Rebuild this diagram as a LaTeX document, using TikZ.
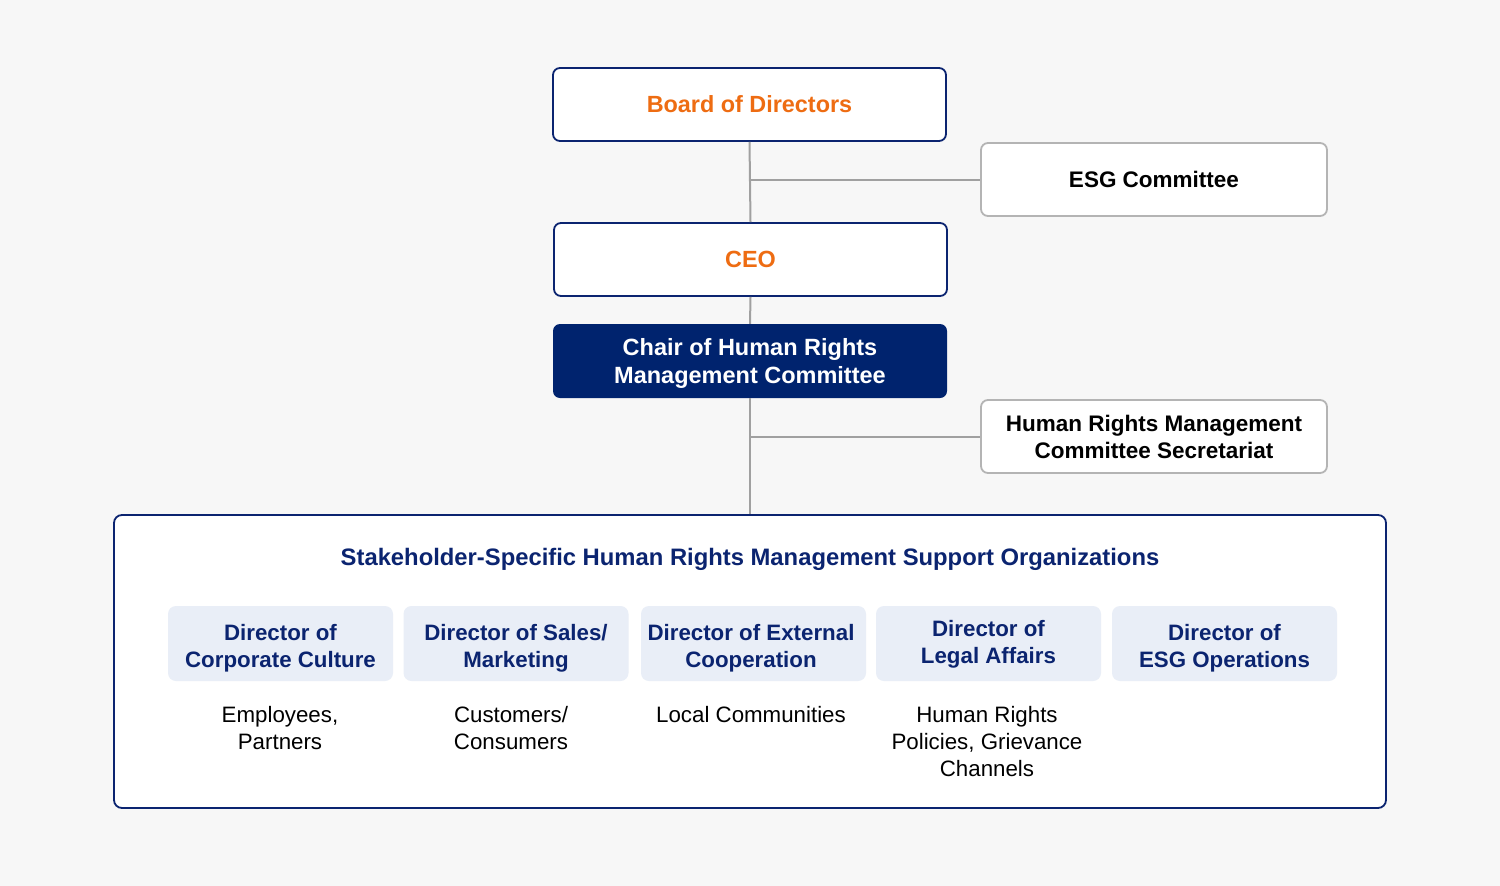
\documentclass[tikz,border=0pt]{standalone}
\usepackage{fontspec}
\setmainfont{Liberation Sans}
\definecolor{bg}{HTML}{F7F7F7}
\definecolor{navy}{HTML}{0B2470}
\definecolor{chairfill}{HTML}{00236E}
\definecolor{orangetxt}{HTML}{EE6C12}
\definecolor{lightblue}{HTML}{E9EEF7}
\definecolor{lineg}{HTML}{A0A0A0}
\definecolor{borderg}{HTML}{B4B4B4}
\begin{document}
\begin{tikzpicture}[x=1pt,y=-1pt,
  txt/.style={font=\fontsize{22.3}{27}\selectfont, align=center},
  btxt/.style={font=\fontsize{22.5}{27}\selectfont\bfseries, align=center},
  topbox/.style={btxt, font=\fontsize{23.4}{27}\selectfont\bfseries, draw=navy, line width=1.8pt, fill=white, rounded corners=7pt, minimum width=393pt, minimum height=73pt, inner sep=0pt, text=orangetxt},
  sidebox/.style={btxt, draw=borderg, line width=1.8pt, fill=white, rounded corners=7pt, minimum width=346pt, minimum height=73pt, inner sep=0pt, text=black},
  chairbox/.style={fill=chairfill, rounded corners=7pt, minimum width=394pt, minimum height=74pt, inner sep=0pt},
  dirbox/.style={fill=lightblue, rounded corners=8pt, minimum width=225pt, minimum height=75pt, inner sep=0pt},
  dirtxt/.style={btxt, font=\fontsize{22.3}{27}\selectfont\bfseries, text=navy},
  stake/.style={txt, text=black},
  conn/.style={draw=lineg, line width=2pt}
]
\fill[bg] (0,0) rectangle (1500,886);
\useasboundingbox (0,0) rectangle (1500,886);

\node[draw=navy, line width=1.8pt, fill=white, rounded corners=8pt, minimum width=1272pt, minimum height=293pt, inner sep=0pt] (big) at (750,661.5) {};

\node[topbox] (board) at (749.5,104.5) {Board of Directors};
\node[sidebox] (esg) at (1154,179.5) {ESG Committee};
\node[topbox] (ceo) at (750.5,259.5) {CEO};
\node[chairbox] (chair) at (750,361) {};
\node[btxt, font=\fontsize{23.5}{28}\selectfont\bfseries, text=white] (chairt) at (750,363) {Chair of Human Rights\\Management Committee};
\node[sidebox] (sec) at (1154,436.5) {Human Rights Management\\Committee Secretariat};

\node[btxt, font=\fontsize{23.8}{28}\selectfont\bfseries, text=navy] (title) at (750,559.5) {Stakeholder-Specific Human Rights Management Support Organizations};

\node[dirbox] (d1) at (280.5,643.5) {};
\node[dirbox] (d2) at (516,643.5) {};
\node[dirbox] (d3) at (753.5,643.5) {};
\node[dirbox] (d4) at (988.5,643.5) {};
\node[dirbox] (d5) at (1224.5,643.5) {};
\node[dirtxt] (d1t) at (280.5,648) {Director of\\Corporate Culture};
\node[dirtxt] (d2t) at (516,648) {Director of Sales/\\Marketing};
\node[dirtxt] (d3t) at (751,648) {Director of External\\Cooperation};
\node[dirtxt] (d4t) at (988.5,644.5) {Director of\\Legal Affairs};
\node[dirtxt] (d5t) at (1224.5,648) {Director of\\ESG Operations};

\node[stake] (s1) at (280,728.5) {Employees,\\Partners};
\node[stake] (s2) at (511,728.5) {Customers/\\Consumers};
\node[stake] (s3) at (751,715) {Local Communities};
\node[stake] (s4) at (987,742) {Human Rights\\Policies, Grievance\\Channels};

\draw[conn] (board.south) -- (ceo.north);
\draw[conn] (ceo.south) -- (chair.north);
\draw[conn] (chair.south) -- (big.north);
\draw[conn] (board.south |- esg.west) -- (esg.west);
\draw[conn] (chair.south |- sec.west) -- (sec.west);
\end{tikzpicture}
\end{document}
